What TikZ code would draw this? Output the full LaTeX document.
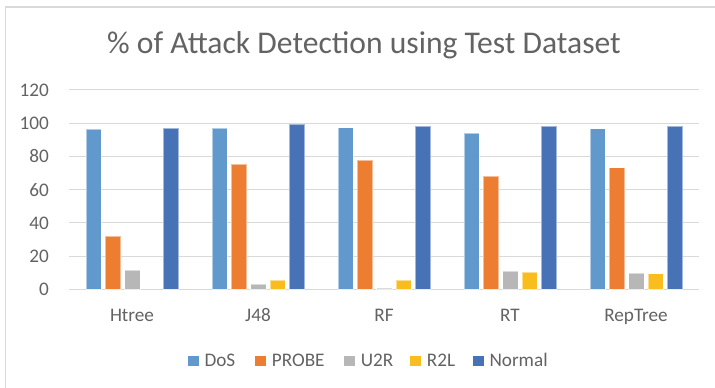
\documentclass[tikz,border=0pt]{standalone}
\usepackage{fontspec}
\setmainfont{Carlito}
\definecolor{cDoS}{HTML}{6199CD}
\definecolor{cProbe}{HTML}{ED7D31}
\definecolor{cU2R}{HTML}{B7B7B7}
\definecolor{cR2L}{HTML}{F9BE1E}
\definecolor{cNormal}{HTML}{4872B6}
\definecolor{txtgray}{HTML}{636363}
\definecolor{gridgray}{HTML}{D9D9D9}
\begin{document}
\begin{tikzpicture}[x=1pt,y=-1pt,
  lbl/.style={inner sep=0pt,text=txtgray,font=\fontsize{19.2}{22}\selectfont},
  gridline/.style={draw=gridgray,line width=1pt}]
\useasboundingbox (0,0) rectangle (715,388);
\fill[white] (0,0) rectangle (715,388);
\begin{scope}
\clip (0,0) rectangle (715,388);
\draw[draw=gridgray,line width=1.2pt] (5.5,7) rectangle (730,400);
\end{scope}
% title
\node[inner sep=0pt,anchor=base,text=txtgray,font=\fontsize{31.6}{35}\selectfont] (title) at (364,53.3) {\% of Attack Detection using Test Dataset};
% grid and y labels
\foreach \v [count=\k] in {20,40,60,80,100,120}{
  \draw[gridline] (69,{289.3-1.661*\v}) -- (699,{289.3-1.661*\v});
}
\draw[draw=gridgray,line width=1.6pt] (69,289.3) -- (699,289.3);
\foreach \v [count=\k] in {0,20,40,60,80,100,120}{
  \node[lbl,anchor=east] (y\k) at (49,{289.3-1.661*\v}) {\v};
}
% bars
\foreach \vals [count=\i from 0] in {
  {96.3,32.1,11.6,0,96.9},
  {97.0,75.3,3.0,5.6,99.3},
  {97.3,77.8,0.8,5.4,98.1},
  {94.1,68.2,10.8,10.4,98.1},
  {96.7,73.2,9.8,9.4,98.1}}{
  \foreach \v [count=\j from 0] in \vals {
    \ifcase\j \def\cc{cDoS}\or \def\cc{cProbe}\or \def\cc{cU2R}\or \def\cc{cR2L}\or \def\cc{cNormal}\fi
    \ifdim\v pt>0pt
      \fill[fill=\cc] ({86+126*\i+19.3*\j},289.3) rectangle ({86+126*\i+19.3*\j+15.3},{289.3-1.661*\v});
      \draw[draw=white,line width=0.5pt,opacity=0.5] ({86+126*\i+19.3*\j},289.3) rectangle ({86+126*\i+19.3*\j+15.3},{289.3-1.661*\v});
    \fi
  }
}
% x labels
\foreach \name [count=\i from 0] in {Htree,J48,RF,RT,RepTree}{
  \node[lbl,anchor=base] (x\i) at ({132+126*\i},321.7) {\name};
}
% legend
\foreach \cc/\x/\tx/\name in {cDoS/188.3/204.3/DoS,cProbe/255.3/271.7/PROBE,cU2R/344.3/360.7/U2R,cR2L/410.3/426.7/R2L,cNormal/472.7/489.3/Normal}{
  \fill[\cc] (\x,355.5) rectangle ({\x+11},366.3);
  \node[lbl,anchor=base west] (leg\name) at (\tx,366) {\name};
}
\end{tikzpicture}
\end{document}
